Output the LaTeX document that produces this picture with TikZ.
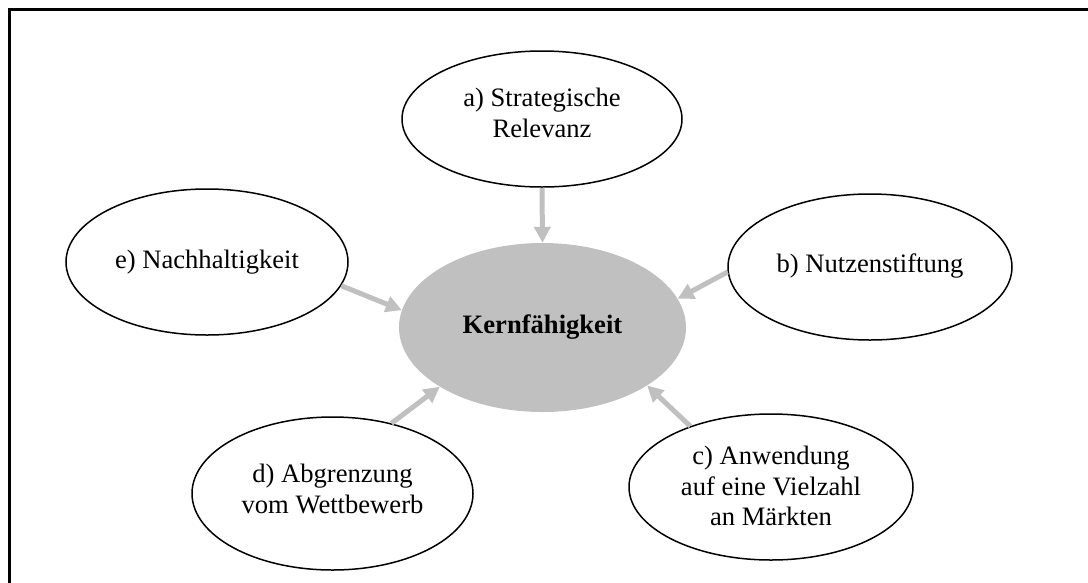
\documentclass[tikz,border=0pt]{standalone}
\usepackage{fontspec}
\setmainfont{Liberation Serif}
\usetikzlibrary{shapes.geometric,arrows.meta}
\definecolor{coregray}{HTML}{C0C0C0}
\definecolor{arrowgray}{HTML}{C0C0C0}
\tikzset{
  txt/.style={font=\fontsize{26.6}{30.5}\selectfont, align=center},
  criterion/.style={ellipse, draw=black, line width=1.5pt, fill=white,
    inner sep=0pt, minimum width=284pt, minimum height=146pt},
  core/.style={txt, ellipse, fill=coregray, inner sep=0pt,
    minimum width=287pt, minimum height=169pt, font=\fontsize{26.6}{30.5}\selectfont\bfseries},
  feed/.style={draw=arrowgray, line width=5pt,
    -{Triangle[length=16pt,width=16pt]}},
}
\begin{document}
\begin{tikzpicture}[x=1pt, y=-1pt]
  \useasboundingbox (0,0) rectangle (1088,582);
  % outer frame (only top and left edges lie inside the page)
  \draw[line width=2.2pt] (9.5,590) -- (9.5,9.5) -- (1095,9.5);

  % central competence
  \node[core] (k) at (542.5,327.5) {Kernfähigkeit};

  % the five criteria
  \node[criterion, minimum width=280pt, minimum height=136pt] (a) at (542,119) {};
  \node[criterion] (b) at (870,267) {};
  \node[criterion] (c) at (771,487) {};
  \node[criterion, minimum width=281pt, minimum height=153pt] (d) at (332.5,493.5) {};
  \node[criterion, minimum width=282pt] (e) at (207,262) {};

  % their texts
  \node[txt] (a-text) at (542,113) {a) Strategische\\Relevanz};
  \node[txt] (b-text) at (870,266) {b) Nutzenstiftung};
  \node[txt] (c-text) at (771,486) {c) Anwendung\\auf eine Vielzahl\\an Märkten};
  \node[txt] (d-text) at (332.5,489) {d) Abgrenzung\\vom Wettbewerb};
  \node[txt] (e-text) at (207,262) {e) Nachhaltigkeit};

  % arrows feeding the core
  \draw[feed] (a.south) -- (k.north);
  \draw[feed] (b.182) -- (k.12);
  \draw[feed] (c.143) -- (k.331);
  \draw[feed] (d.50) -- (k.210);
  \draw[feed] (e.350) -- (k.173);
\end{tikzpicture}
\end{document}
